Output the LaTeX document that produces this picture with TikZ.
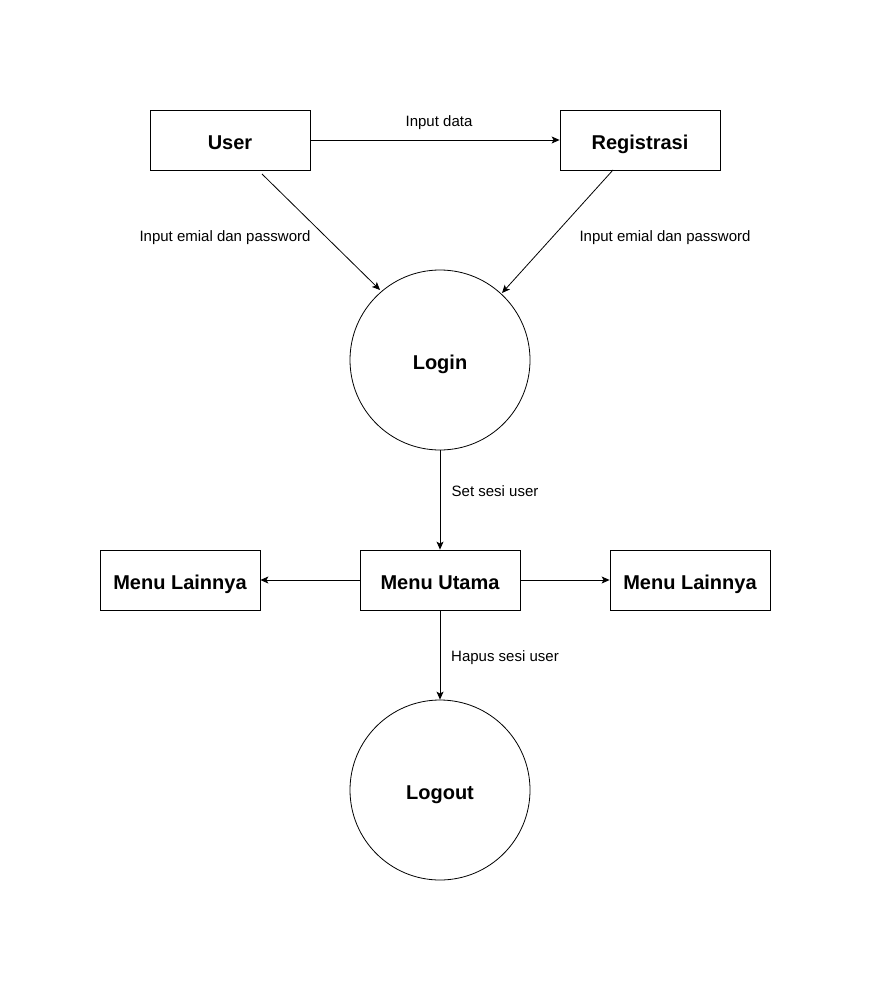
\documentclass[tikz,border=0pt]{standalone}
\usepackage{fontspec}
\setmainfont{Liberation Sans}
\usetikzlibrary{arrows.meta}
\begin{document}
\begin{tikzpicture}[x=1pt,y=-1pt,
  box/.style={draw,line width=0.8pt,minimum width=160pt,minimum height=60pt,inner sep=0pt,text height=20pt,text depth=1.6pt,font=\fontsize{20}{24}\selectfont\bfseries},
  proc/.style={draw,circle,line width=0.8pt,minimum size=180pt,inner sep=0pt,text height=20pt,text depth=1.6pt,font=\fontsize{20}{24}\selectfont\bfseries},
  lbl/.style={font=\fontsize{15}{18}\selectfont,inner sep=0pt,text height=12pt,text depth=1pt},
  flow/.style={draw,line width=0.8pt,-{Stealth[length=8pt,width=7pt,inset=2pt]}}]
\useasboundingbox (0,0) rectangle (871,981);
\node[box] (user) at (230,140) {User};
\node[box] (reg) at (640,140) {Registrasi};
\node[proc] (login) at (440,360) {Login};
\node[box] (menu) at (440,580) {Menu Utama};
\node[box] (ml) at (180,580) {Menu Lainnya};
\node[box] (mr) at (690,580) {Menu Lainnya};
\node[proc] (logout) at (440,790) {Logout};
\coordinate (u1) at (262,174);
\coordinate (l1) at (380,290);
\coordinate (r1) at (613,170);
\coordinate (l2) at (502,293);
\draw[flow] (user) -- (reg);
\draw[flow] (u1) -- (l1);
\draw[flow] (r1) -- (l2);
\draw[flow] (login) -- (menu);
\draw[flow] (menu) -- (ml);
\draw[flow] (menu) -- (mr);
\draw[flow] (menu) -- (logout);
\node[lbl] (t1) at (439,121) {Input data};
\node[lbl] (t2) at (225,236) {Input emial dan password};
\node[lbl] (t3) at (665,236) {Input emial dan password};
\node[lbl] (t4) at (495,491) {Set sesi user};
\node[lbl] (t5) at (505,656) {Hapus sesi user};
\end{tikzpicture}
\end{document}
